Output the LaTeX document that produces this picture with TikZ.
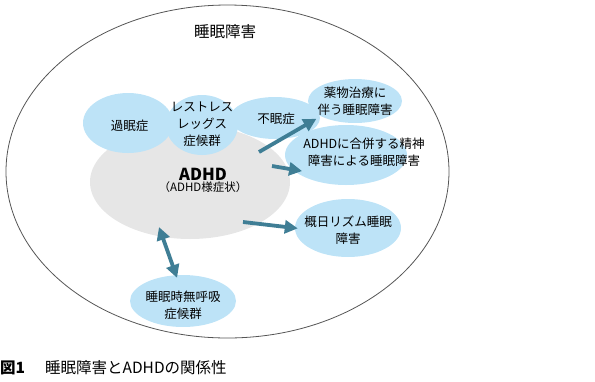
\documentclass[tikz,border=0pt]{standalone}
\usepackage{fontspec}
\setmainfont{Noto Sans CJK JP}
\usetikzlibrary{shapes.geometric, arrows.meta, positioning}
\definecolor{SleepBlue}{HTML}{BDE3F7}
\definecolor{AdhdGray}{HTML}{E6E6E6}
\definecolor{ArrowTeal}{HTML}{3F7E95}
\definecolor{RimGray}{HTML}{555555}

\begin{document}
\begin{tikzpicture}[x=1pt, y=-1pt,
    bubble/.style={ellipse, fill=SleepBlue, inner sep=0pt},
    bubbletext/.style={align=center, inner sep=0pt, font=\fontsize{12.5}{17}\selectfont},
    linkarrow/.style={ArrowTeal, line width=3.8pt, -{Triangle[length=13pt,width=13pt]}},
    linkboth/.style={linkarrow, {Triangle[length=13pt,width=13pt]}-{Triangle[length=13pt,width=13pt]}}]
  \useasboundingbox (0,0) rectangle (595,381);
  %% Outer set: sleep disorders
  \node[ellipse, draw=RimGray, line width=0.8pt, minimum width=443pt, minimum height=333pt, inner sep=0pt] (sleep) at (227.5,171.5) {};
  \node[font=\fontsize{15.5}{18}\selectfont] (title) at (225,32) {睡眠障害};
  %% ADHD region
  \node[ellipse, fill=AdhdGray, minimum width=200pt, minimum height=114pt, inner sep=0pt] (adhd) at (190,182) {};
  %% Blue bubbles
  \node[bubble, minimum width=90pt, minimum height=60pt] (kamin) at (128,123) {};
  \node[bubble, minimum width=72pt, minimum height=60pt] (restless) at (202,125) {};
  \node[bubble, minimum width=90pt, minimum height=42pt] (fumin) at (275,118) {};
  \node[bubble, minimum width=94pt, minimum height=44pt] (yakubutsu) at (355,101) {};
  \node[bubble, minimum width=122pt, minimum height=60pt] (gappei) at (346,155) {};
  \node[bubble, minimum width=106pt, minimum height=58pt] (gaijitsu) at (348,228) {};
  \node[bubble, minimum width=106pt, minimum height=52pt] (apnea) at (183,301) {};
  %% Labels
  \node[align=center, inner sep=0pt] (adhdtext) at (203,180)
    {{\fontsize{16.5}{18}\selectfont\bfseries ADHD}\\[-1pt]{\fontsize{11.5}{13}\selectfont （ADHD様症状）}};
  \node[bubbletext] (kamin-t) at (129.5,126) {過眠症};
  \node[bubbletext] (restless-t) at (202,124) {レストレス\\レッグス\\症候群};
  \node[bubbletext] (fumin-t) at (276,119) {不眠症};
  \node[bubbletext] (yakubutsu-t) at (355,101.5) {薬物治療に\\伴う睡眠障害};
  \node[bubbletext] (gappei-t) at (364,152) {ADHDに合併する精神\\障害による睡眠障害};
  \node[bubbletext] (gaijitsu-t) at (348,230) {概日リズム睡眠\\障害};
  \node[bubbletext] (apnea-t) at (183,305.5) {睡眠時無呼吸\\症候群};
  %% Arrows out of ADHD
  \coordinate (t1) at (259,152);
  \coordinate (t2) at (272,166);
  \coordinate (t3) at (243,222);
  \coordinate (t4) at (159,227);
  \draw[linkarrow, shorten >=5pt] (t1) -- (yakubutsu.204);
  \draw[linkarrow, shorten >=-10pt] (t2) -- (gappei.195);
  \draw[linkarrow, shorten >=-3pt] (t3) -- (gaijitsu.west);
  \draw[linkboth, shorten >=-3pt] (t4) -- (apnea.105);
  %% Caption
  \node[anchor=west, inner sep=0pt, font=\fontsize{15.5}{18}\selectfont] (caption) at (0,368)
    {\textbf{図1}\hspace{20pt}睡眠障害とADHDの関係性};
\end{tikzpicture}
\end{document}
